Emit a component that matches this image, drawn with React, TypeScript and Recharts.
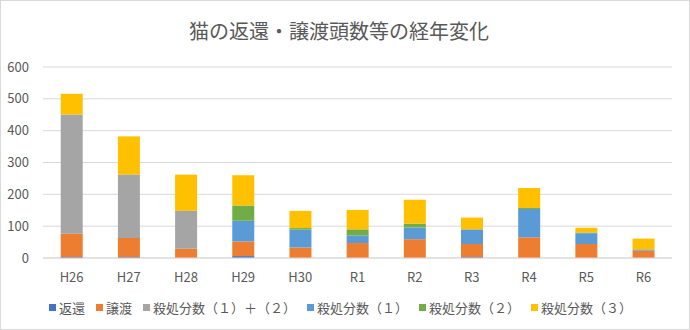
import { BarChart, Bar, XAxis, YAxis, CartesianGrid } from "recharts";

const years = ["H26", "H27", "H28", "H29", "H30", "R1", "R2", "R3", "R4", "R5", "R6"];
const returned = [3, 3, 0, 6, 0, 0, 0, 3, 0, 0, 0];
const transferred = [73, 60, 29, 46, 33, 47, 59, 41, 65, 44, 23];
const culled12 = [375, 199, 119, 0, 0, 0, 0, 0, 0, 0, 0];
const culled1 = [0, 0, 0, 65, 56, 24, 37, 46, 89, 34, 4];
const culled2 = [0, 0, 0, 48, 5, 19, 12, 0, 3, 2, 0];
const culled3 = [65, 120, 114, 95, 54, 61, 75, 37, 63, 15, 34];
const yTicks = [0, 100, 200, 300, 400, 500, 600];

const SERIES = [
  { key: "returned", name: "返還", color: "#4472C4" },
  { key: "transferred", name: "譲渡", color: "#ED7D31" },
  { key: "culled12", name: "殺処分数（１）＋（２）", color: "#A5A5A5" },
  { key: "culled1", name: "殺処分数（１）", color: "#5B9BD5" },
  { key: "culled2", name: "殺処分数（２）", color: "#70AD47" },
  { key: "culled3", name: "殺処分数（３）", color: "#FFC000" },
];

const data = years.map((year, i) => ({
  year,
  returned: returned[i],
  transferred: transferred[i],
  culled12: culled12[i],
  culled1: culled1[i],
  culled2: culled2[i],
  culled3: culled3[i],
}));

const FONT = "'Noto Sans CJK JP', 'Noto Sans', sans-serif";

export default function App() {
  return (
    <div
      style={{
        position: "absolute",
        left: 0,
        top: 0,
        width: 690,
        height: 330,
        background: "#fff",
        boxSizing: "border-box",
        border: "1px solid #d9d9d9",
      }}
    >
      <div
        style={{
          position: "absolute",
          top: 15,
          left: 0,
          width: 676,
          textAlign: "center",
          fontFamily: FONT,
          fontSize: 20,
          color: "#595959",
        }}
      >
        猫の返還・譲渡頭数等の経年変化
      </div>
      <div style={{ position: "absolute", left: -1, top: -1 }}>
        <BarChart
          width={690}
          height={330}
          data={data}
          margin={{ top: 67, right: 18, left: 0, bottom: 42 }}
          barCategoryGap="31%"
        >
          <CartesianGrid stroke="#d9d9d9" vertical={false} />
          <XAxis
            dataKey="year"
            height={30}
            tick={{ fill: "#595959", fontSize: 13, fontFamily: FONT }}
            axisLine={{ stroke: "#d9d9d9" }}
            tickLine={false}
            tickMargin={9}
          />
          <YAxis
            width={43}
            domain={[0, 600]}
            ticks={yTicks}
            tick={{ fill: "#595959", fontSize: 13, fontFamily: FONT }}
            axisLine={false}
            tickLine={false}
            tickMargin={8}
          />
          {SERIES.map((s) => (
            <Bar key={s.key} dataKey={s.key} name={s.name} stackId="a" fill={s.color} isAnimationActive={false} />
          ))}
        </BarChart>
      </div>
      <div
        style={{
          position: "absolute",
          top: 297,
          left: 0,
          width: 690,
          display: "flex",
          justifyContent: "center",
          fontFamily: FONT,
          fontSize: 13,
          color: "#595959",
        }}
      >
        {SERIES.map((s) => (
          <div key={s.key} style={{ display: "flex", alignItems: "center", marginRight: 11 }}>
            <span style={{ width: 7, height: 7, background: s.color, display: "inline-block", marginRight: 3 }} />
            <span>{s.name}</span>
          </div>
        ))}
      </div>
    </div>
  );
}
